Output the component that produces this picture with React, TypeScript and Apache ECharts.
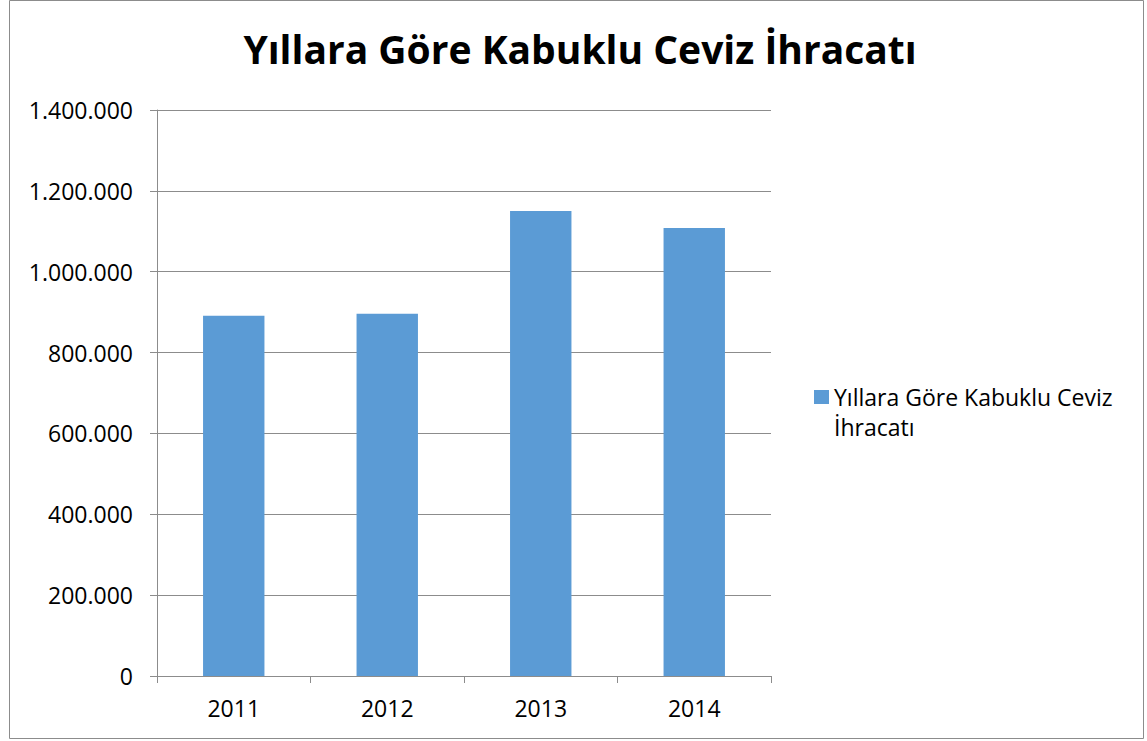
import React, { useEffect, useRef } from "react";
import * as echarts from "echarts";

const categories = ["2011", "2012", "2013", "2014"];
const seriesName = "Yıllara Göre Kabuklu Ceviz İhracatı";
const values = [891000, 896000, 1150000, 1108000];
const titleText = "Yıllara Göre Kabuklu Ceviz İhracatı";
const yMin = 0;
const yMax = 1400000;
const yStep = 200000;

function fmt(v: number): string {
  return String(Math.round(v)).replace(/\B(?=(\d{3})+(?!\d))/g, ".");
}

export default function App() {
  const ref = useRef<HTMLDivElement>(null);
  useEffect(() => {
    if (!ref.current) return;
    const chart = echarts.init(ref.current, null, { renderer: "svg" });
    const font = "Open Sans";
    const barColor = "#5b9bd5";
    const axisGray = "#8c8c8c";
    chart.setOption({
      animation: false,
      backgroundColor: "#ffffff",
      textStyle: { fontFamily: font },
      title: {
        text: titleText,
        top: 24,
        left: 575,
        textAlign: "center",
        textStyle: { fontFamily: font, fontWeight: "bold", fontSize: 39, color: "#000000" },
      },
      legend: {
        orient: "vertical",
        left: 814,
        top: 382,
        padding: 0,
        itemWidth: 15,
        itemHeight: 13,
        icon: "rect",
        itemStyle: { color: "rgba(0,0,0,0)" },
        formatter: () => "Yıllara Göre Kabuklu Ceviz\nİhracatı",
        textStyle: { fontFamily: font, fontSize: 23, color: "#000000", lineHeight: 30 },
        data: [seriesName],
      },
      grid: { left: 157, right: 376, top: 110, bottom: 65 },
      xAxis: {
        type: "category",
        data: categories,
        axisLine: { lineStyle: { color: axisGray, width: 1 } },
        axisTick: { show: true, length: 7, lineStyle: { color: axisGray } },
        axisLabel: { color: "#000000", fontSize: 23, margin: 20, fontFamily: font },
      },
      yAxis: {
        type: "value",
        min: yMin,
        max: yMax,
        interval: yStep,
        axisLine: { show: true, lineStyle: { color: axisGray } },
        axisTick: { show: true, length: 7, inside: false, lineStyle: { color: axisGray } },
        splitLine: { lineStyle: { color: axisGray, width: 1 } },
        axisLabel: { color: "#000000", fontSize: 23, margin: 24, fontFamily: font, formatter: (v: number) => fmt(v) },
      },
      series: [
        {
          name: seriesName,
          type: "bar",
          data: values,
          barCategoryGap: "60%",
          itemStyle: { color: barColor },
        },
      ],
      graphic: [
        {
          type: "rect",
          shape: { x: 9.5, y: 0.5, width: 1134, height: 738 },
          style: { fill: "none", stroke: axisGray, lineWidth: 1 },
          silent: true,
        },
        {
          type: "rect",
          shape: { x: 814, y: 390, width: 15, height: 14 },
          style: { fill: barColor },
          silent: true,
        },
      ],
    });
    return () => chart.dispose();
  }, []);
  return (
    <div
      ref={ref}
      style={{ position: "fixed", left: 0, top: 0, width: 1147, height: 741 }}
    />
  );
}
